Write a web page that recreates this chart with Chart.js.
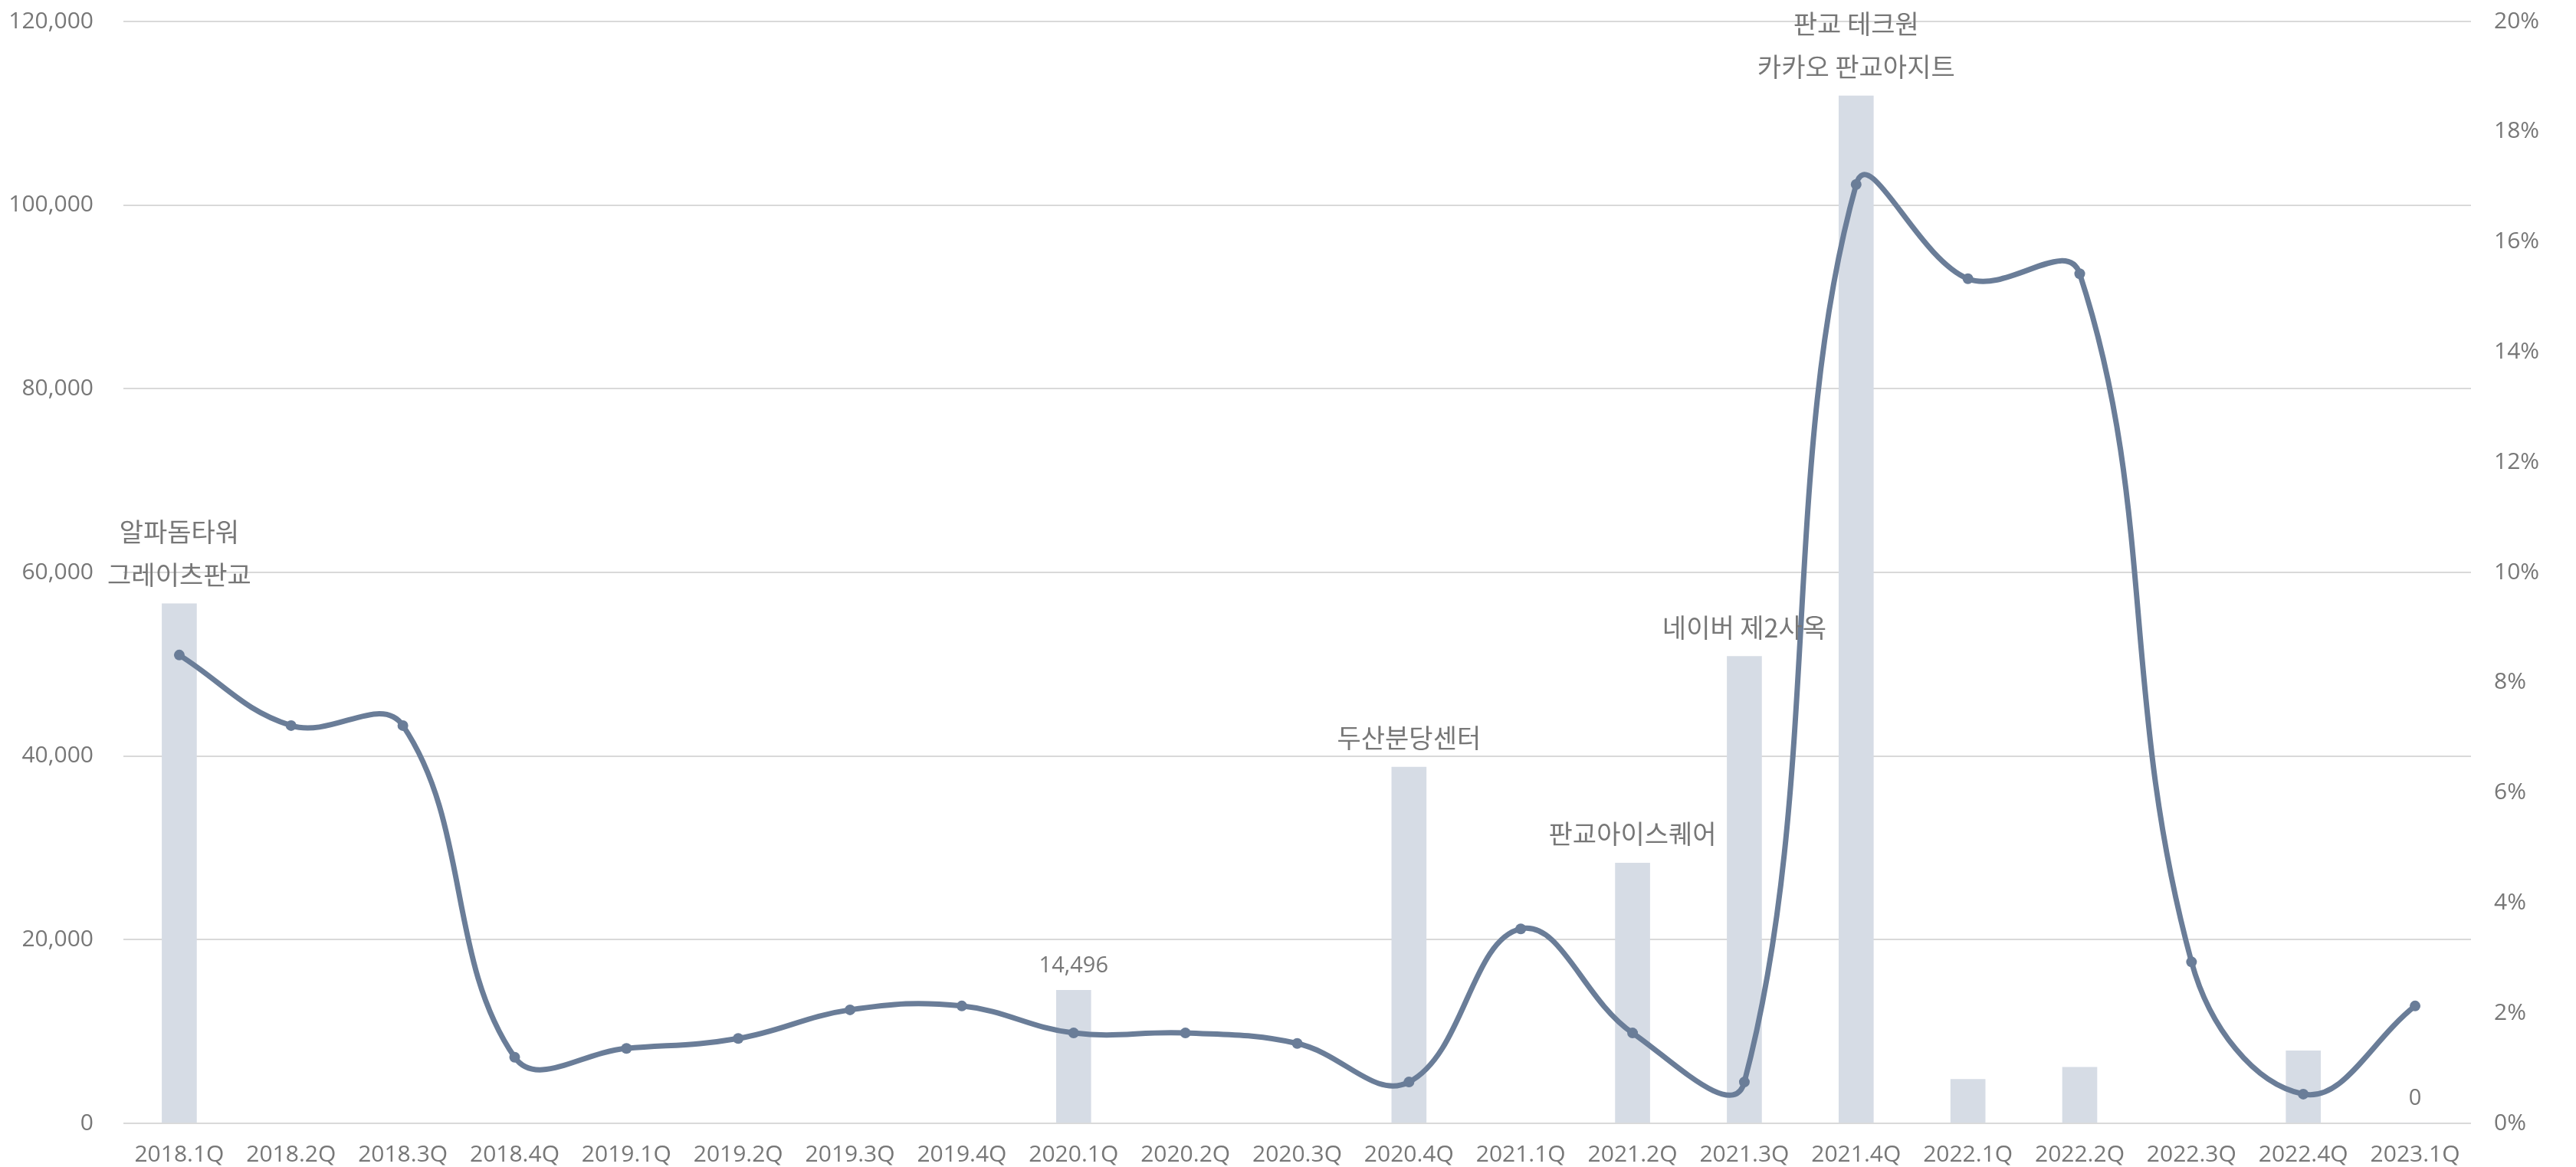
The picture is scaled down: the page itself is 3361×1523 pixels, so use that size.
<!DOCTYPE html>
<html>
<head>
<meta charset="utf-8">
<script src="https://cdn.jsdelivr.net/npm/chart.js@4"></script>
<style>
    html, body { margin: 0; padding: 0; background: #ffffff; }
    canvas { display: block; }
</style>
</head>
<body>
<canvas id="mainChart" width="3361" height="1523"></canvas>
<script>
const quarters = ['2018.1Q', '2018.2Q', '2018.3Q', '2018.4Q', '2019.1Q', '2019.2Q', '2019.3Q', '2019.4Q',
    '2020.1Q', '2020.2Q', '2020.3Q', '2020.4Q', '2021.1Q', '2021.2Q', '2021.3Q', '2021.4Q',
    '2022.1Q', '2022.2Q', '2022.3Q', '2022.4Q', '2023.1Q'];

// 신규 공급 면적 (막대, 좌축)
const supply = [56600, null, null, null, null, null, null, null,
    14496, null, null, 38800, null, 28350, 50850, 111900,
    4800, 6100, null, 7900, 0];

// 공실률 % (꺾은선, 우축)
const vacancy = [8.50, 7.22, 7.22, 1.20, 1.36, 1.54, 2.06, 2.13,
    1.64, 1.64, 1.45, 0.75, 3.53, 1.64, 0.75, 17.04,
    15.33, 15.42, 2.93, 0.53, 2.13];

// 막대 위 라벨 (여러 줄은 위에서부터)
const barLabels = [['알파돔타워', '그레이츠판교'], null, null, null, null, null, null, null,
    ['14,496'], null, null, ['두산분당센터'], null, ['판교아이스퀘어'], ['네이버 제2사옥'], ['판교 테크원', '카카오 판교아지트'],
    null, null, null, null, ['0']];

const leftTicks = [0, 20000, 40000, 60000, 80000, 100000, 120000];
const rightTicks = [0, 2, 4, 6, 8, 10, 12, 14, 16, 18, 20];

const colors = {
    bar: '#d6dce5',
    line: '#6a7d98',
    text: '#777777',
    grid: '#d9d9d9'
};

const tickFont = { family: "'Open Sans', 'Noto Sans CJK KR', sans-serif", size: 30 };

const barLabelPlugin = {
    id: 'barLabels',
    afterDatasetsDraw(chart) {
        const ctx = chart.ctx;
        const meta = chart.getDatasetMeta(1);
        ctx.save();
        ctx.fillStyle = colors.text;
        ctx.textAlign = 'center';
        ctx.textBaseline = 'middle';
        barLabels.forEach((lines, i) => {
            if (!lines) return;
            const bar = meta.data[i];
            const topY = chart.scales.y.getPixelForValue(supply[i] || 0);
            lines.forEach((txt, j) => {
                const isNum = /^[0-9,]+$/.test(txt);
                ctx.font = isNum ? "29px 'Open Sans', sans-serif" : "34px 'Noto Sans CJK KR', sans-serif";
                const y = topY - (isNum ? 32 : 38) - (lines.length - 1 - j) * 56;
                ctx.fillText(txt, bar.x, y);
            });
        });
        ctx.restore();
    }
};

const ctx = document.getElementById('mainChart').getContext('2d');

const chart = new Chart(ctx, {
    type: 'bar',
    data: {
        labels: quarters,
        datasets: [{
            type: 'line',
            label: '공실률',
            data: vacancy,
            yAxisID: 'y1',
            borderColor: colors.line,
            backgroundColor: colors.line,
            borderWidth: 7,
            pointRadius: 7,
            pointBorderWidth: 0,
            pointBackgroundColor: colors.line,
            tension: 0.4,
            order: 1
        }, {
            type: 'bar',
            label: '신규 공급',
            data: supply,
            yAxisID: 'y',
            backgroundColor: colors.bar,
            borderWidth: 0,
            barThickness: 45,
            order: 2
        }]
    },
    options: {
        responsive: false,
        animation: false,
        layout: { padding: 0 },
        plugins: {
            legend: { display: false },
            tooltip: { enabled: false }
        },
        scales: {
            x: {
                grid: { display: false },
                border: { display: false },
                ticks: {
                    color: colors.text,
                    font: tickFont,
                    padding: 15,
                    maxRotation: 0,
                    autoSkip: false
                },
                afterFit(scale) { scale.height = 57; }
            },
            y: {
                position: 'left',
                min: 0,
                max: 120000,
                afterBuildTicks(scale) { scale.ticks = leftTicks.map(v => ({ value: v })); },
                grid: { color: colors.grid, lineWidth: 2, drawTicks: true, tickLength: 29, tickColor: 'rgba(0,0,0,0)' },
                border: { display: false },
                ticks: {
                    color: colors.text,
                    font: tickFont,
                    padding: 10,
                    callback: v => v.toLocaleString('en-US')
                },
                afterFit(scale) { scale.width = 161; }
            },
            y1: {
                position: 'right',
                min: 0,
                max: 20,
                afterBuildTicks(scale) { scale.ticks = rightTicks.map(v => ({ value: v })); },
                grid: { display: false, drawTicks: true, tickLength: 20 },
                border: { display: false },
                ticks: {
                    color: colors.text,
                    font: tickFont,
                    padding: 10,
                    callback: v => v + '%'
                },
                afterFit(scale) { scale.width = 137; }
            }
        }
    },
    plugins: [barLabelPlugin]
});
</script>
</body>
</html>
